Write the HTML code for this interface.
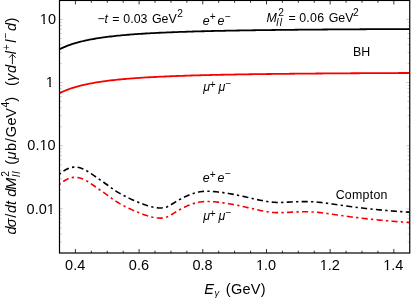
<!DOCTYPE html>
<html><head><meta charset="utf-8"><title>plot</title>
<style>
html,body{margin:0;padding:0;background:#fff;}
svg{display:block;will-change:transform;}
text{font-family:"Liberation Sans",sans-serif;fill:#000;}
.i{font-style:italic;}
</style></head><body>
<svg width="415" height="302" viewBox="0 0 415 302">
<rect x="0" y="0" width="415" height="302" fill="#fff"/>
<defs><clipPath id="c"><rect x="59.5" y="0.45" width="350.25" height="252.55"/></clipPath></defs>

<g clip-path="url(#c)" fill="none" stroke-linejoin="round">
<path d="M59.50,49.23 L61.26,48.37 L63.02,47.57 L64.78,46.82 L66.54,46.11 L68.30,45.44 L70.06,44.81 L71.82,44.21 L73.58,43.65 L75.34,43.12 L77.10,42.62 L78.86,42.14 L80.62,41.69 L82.38,41.25 L84.14,40.84 L85.90,40.45 L87.66,40.08 L89.42,39.73 L91.18,39.39 L92.94,39.07 L94.70,38.76 L96.46,38.46 L98.22,38.18 L99.98,37.91 L101.74,37.65 L103.50,37.40 L105.26,37.16 L107.02,36.93 L108.78,36.71 L110.54,36.50 L112.30,36.29 L114.06,36.09 L115.82,35.90 L117.58,35.72 L119.34,35.55 L121.10,35.38 L122.86,35.21 L124.62,35.06 L126.38,34.90 L128.14,34.76 L129.90,34.61 L131.66,34.47 L133.42,34.34 L135.18,34.21 L136.94,34.09 L138.70,33.97 L140.46,33.85 L142.22,33.74 L143.98,33.62 L145.74,33.52 L147.50,33.41 L149.26,33.31 L151.02,33.22 L152.78,33.12 L154.54,33.03 L156.30,32.94 L158.06,32.85 L159.82,32.77 L161.58,32.68 L163.34,32.60 L165.10,32.53 L166.86,32.45 L168.62,32.38 L170.38,32.30 L172.14,32.23 L173.90,32.17 L175.66,32.10 L177.42,32.03 L179.18,31.97 L180.94,31.91 L182.70,31.85 L184.46,31.79 L186.22,31.73 L187.98,31.68 L189.74,31.62 L191.50,31.57 L193.26,31.52 L195.02,31.46 L196.78,31.41 L198.54,31.37 L200.30,31.32 L202.06,31.27 L203.82,31.23 L205.58,31.18 L207.34,31.14 L209.10,31.09 L210.86,31.05 L212.62,31.01 L214.38,30.97 L216.14,30.93 L217.90,30.89 L219.66,30.86 L221.42,30.82 L223.18,30.78 L224.94,30.75 L226.70,30.71 L228.46,30.68 L230.22,30.65 L231.98,30.61 L233.74,30.58 L235.51,30.55 L237.27,30.52 L239.03,30.49 L240.79,30.46 L242.55,30.43 L244.31,30.40 L246.07,30.37 L247.83,30.35 L249.59,30.32 L251.35,30.29 L253.11,30.27 L254.87,30.24 L256.63,30.22 L258.39,30.19 L260.15,30.17 L261.91,30.14 L263.67,30.12 L265.43,30.10 L267.19,30.07 L268.95,30.05 L270.71,30.03 L272.47,30.01 L274.23,29.99 L275.99,29.97 L277.75,29.95 L279.51,29.93 L281.27,29.91 L283.03,29.89 L284.79,29.87 L286.55,29.85 L288.31,29.83 L290.07,29.81 L291.83,29.79 L293.59,29.78 L295.35,29.76 L297.11,29.74 L298.87,29.72 L300.63,29.71 L302.39,29.69 L304.15,29.68 L305.91,29.66 L307.67,29.64 L309.43,29.63 L311.19,29.61 L312.95,29.60 L314.71,29.58 L316.47,29.57 L318.23,29.55 L319.99,29.54 L321.75,29.53 L323.51,29.51 L325.27,29.50 L327.03,29.49 L328.79,29.47 L330.55,29.46 L332.31,29.45 L334.07,29.43 L335.83,29.42 L337.59,29.41 L339.35,29.40 L341.11,29.39 L342.87,29.37 L344.63,29.36 L346.39,29.35 L348.15,29.34 L349.91,29.33 L351.67,29.32 L353.43,29.31 L355.19,29.30 L356.95,29.29 L358.71,29.28 L360.47,29.26 L362.23,29.25 L363.99,29.24 L365.75,29.23 L367.51,29.22 L369.27,29.22 L371.03,29.21 L372.79,29.20 L374.55,29.19 L376.31,29.18 L378.07,29.17 L379.83,29.16 L381.59,29.15 L383.35,29.14 L385.11,29.13 L386.87,29.12 L388.63,29.12 L390.39,29.11 L392.15,29.10 L393.91,29.09 L395.67,29.08 L397.43,29.08 L399.19,29.07 L400.95,29.06 L402.71,29.05 L404.47,29.04 L406.23,29.04 L407.99,29.03 L409.75,29.02" stroke="#000" stroke-width="1.8"/>
<path d="M59.50,93.18 L61.26,92.32 L63.02,91.52 L64.78,90.77 L66.54,90.06 L68.30,89.39 L70.06,88.76 L71.82,88.16 L73.58,87.60 L75.34,87.07 L77.10,86.57 L78.86,86.09 L80.62,85.64 L82.38,85.20 L84.14,84.79 L85.90,84.40 L87.66,84.03 L89.42,83.68 L91.18,83.34 L92.94,83.02 L94.70,82.71 L96.46,82.41 L98.22,82.13 L99.98,81.86 L101.74,81.60 L103.50,81.35 L105.26,81.11 L107.02,80.88 L108.78,80.66 L110.54,80.45 L112.30,80.24 L114.06,80.04 L115.82,79.85 L117.58,79.67 L119.34,79.50 L121.10,79.33 L122.86,79.16 L124.62,79.01 L126.38,78.85 L128.14,78.71 L129.90,78.56 L131.66,78.42 L133.42,78.29 L135.18,78.16 L136.94,78.04 L138.70,77.92 L140.46,77.80 L142.22,77.69 L143.98,77.57 L145.74,77.47 L147.50,77.36 L149.26,77.26 L151.02,77.17 L152.78,77.07 L154.54,76.98 L156.30,76.89 L158.06,76.80 L159.82,76.72 L161.58,76.63 L163.34,76.55 L165.10,76.48 L166.86,76.40 L168.62,76.33 L170.38,76.25 L172.14,76.18 L173.90,76.12 L175.66,76.05 L177.42,75.98 L179.18,75.92 L180.94,75.86 L182.70,75.80 L184.46,75.74 L186.22,75.68 L187.98,75.63 L189.74,75.57 L191.50,75.52 L193.26,75.47 L195.02,75.41 L196.78,75.36 L198.54,75.32 L200.30,75.27 L202.06,75.22 L203.82,75.18 L205.58,75.13 L207.34,75.09 L209.10,75.04 L210.86,75.00 L212.62,74.96 L214.38,74.92 L216.14,74.88 L217.90,74.84 L219.66,74.81 L221.42,74.77 L223.18,74.73 L224.94,74.70 L226.70,74.66 L228.46,74.63 L230.22,74.60 L231.98,74.56 L233.74,74.53 L235.51,74.50 L237.27,74.47 L239.03,74.44 L240.79,74.41 L242.55,74.38 L244.31,74.35 L246.07,74.32 L247.83,74.30 L249.59,74.27 L251.35,74.24 L253.11,74.22 L254.87,74.19 L256.63,74.17 L258.39,74.14 L260.15,74.12 L261.91,74.09 L263.67,74.07 L265.43,74.05 L267.19,74.02 L268.95,74.00 L270.71,73.98 L272.47,73.96 L274.23,73.94 L275.99,73.92 L277.75,73.90 L279.51,73.88 L281.27,73.86 L283.03,73.84 L284.79,73.82 L286.55,73.80 L288.31,73.78 L290.07,73.76 L291.83,73.74 L293.59,73.73 L295.35,73.71 L297.11,73.69 L298.87,73.67 L300.63,73.66 L302.39,73.64 L304.15,73.63 L305.91,73.61 L307.67,73.59 L309.43,73.58 L311.19,73.56 L312.95,73.55 L314.71,73.53 L316.47,73.52 L318.23,73.50 L319.99,73.49 L321.75,73.48 L323.51,73.46 L325.27,73.45 L327.03,73.44 L328.79,73.42 L330.55,73.41 L332.31,73.40 L334.07,73.38 L335.83,73.37 L337.59,73.36 L339.35,73.35 L341.11,73.34 L342.87,73.32 L344.63,73.31 L346.39,73.30 L348.15,73.29 L349.91,73.28 L351.67,73.27 L353.43,73.26 L355.19,73.25 L356.95,73.24 L358.71,73.23 L360.47,73.21 L362.23,73.20 L363.99,73.19 L365.75,73.18 L367.51,73.17 L369.27,73.17 L371.03,73.16 L372.79,73.15 L374.55,73.14 L376.31,73.13 L378.07,73.12 L379.83,73.11 L381.59,73.10 L383.35,73.09 L385.11,73.08 L386.87,73.07 L388.63,73.07 L390.39,73.06 L392.15,73.05 L393.91,73.04 L395.67,73.03 L397.43,73.03 L399.19,73.02 L400.95,73.01 L402.71,73.00 L404.47,72.99 L406.23,72.99 L407.99,72.98 L409.75,72.97" stroke="#f80000" stroke-width="1.8"/>
<path d="M59.50,174.18 L61.26,172.72 L63.02,171.41 L64.78,170.27 L66.54,169.29 L68.30,168.48 L70.06,167.85 L71.82,167.41 L73.58,167.15 L75.34,167.09 L77.10,167.23 L78.86,167.55 L80.62,168.03 L82.38,168.66 L84.14,169.44 L85.90,170.33 L87.66,171.34 L89.42,172.43 L91.18,173.60 L92.94,174.82 L94.70,176.07 L96.46,177.33 L98.22,178.58 L99.98,179.81 L101.74,181.03 L103.50,182.25 L105.26,183.48 L107.02,184.73 L108.78,186.01 L110.54,187.30 L112.30,188.58 L114.06,189.81 L115.82,190.98 L117.58,192.09 L119.34,193.15 L121.10,194.16 L122.86,195.13 L124.62,196.06 L126.38,196.95 L128.14,197.80 L129.90,198.63 L131.66,199.42 L133.42,200.20 L135.18,200.95 L136.94,201.69 L138.70,202.41 L140.46,203.12 L142.22,203.80 L143.98,204.46 L145.74,205.08 L147.50,205.66 L149.26,206.19 L151.02,206.67 L152.78,207.08 L154.54,207.42 L156.30,207.68 L158.06,207.86 L159.82,207.95 L161.58,207.93 L163.34,207.78 L165.10,207.45 L166.86,206.90 L168.62,206.11 L170.38,205.13 L172.14,204.05 L173.90,202.95 L175.66,201.87 L177.42,200.82 L179.18,199.81 L180.94,198.83 L182.70,197.90 L184.46,197.02 L186.22,196.18 L187.98,195.40 L189.74,194.68 L191.50,194.02 L193.26,193.42 L195.02,192.90 L196.78,192.45 L198.54,192.07 L200.30,191.78 L202.06,191.55 L203.82,191.39 L205.58,191.30 L207.34,191.26 L209.10,191.27 L210.86,191.34 L212.62,191.44 L214.38,191.58 L216.14,191.75 L217.90,191.95 L219.66,192.17 L221.42,192.41 L223.18,192.66 L224.94,192.92 L226.70,193.20 L228.46,193.48 L230.22,193.78 L231.98,194.09 L233.74,194.41 L235.51,194.75 L237.27,195.10 L239.03,195.45 L240.79,195.82 L242.55,196.20 L244.31,196.60 L246.07,197.00 L247.83,197.41 L249.59,197.82 L251.35,198.24 L253.11,198.66 L254.87,199.07 L256.63,199.47 L258.39,199.86 L260.15,200.23 L261.91,200.59 L263.67,200.92 L265.43,201.23 L267.19,201.51 L268.95,201.77 L270.71,201.98 L272.47,202.16 L274.23,202.30 L275.99,202.40 L277.75,202.45 L279.51,202.46 L281.27,202.44 L283.03,202.39 L284.79,202.32 L286.55,202.24 L288.31,202.14 L290.07,202.04 L291.83,201.94 L293.59,201.85 L295.35,201.77 L297.11,201.70 L298.87,201.65 L300.63,201.61 L302.39,201.58 L304.15,201.58 L305.91,201.59 L307.67,201.61 L309.43,201.66 L311.19,201.73 L312.95,201.81 L314.71,201.92 L316.47,202.05 L318.23,202.21 L319.99,202.38 L321.75,202.57 L323.51,202.78 L325.27,203.00 L327.03,203.23 L328.79,203.47 L330.55,203.72 L332.31,203.98 L334.07,204.24 L335.83,204.51 L337.59,204.77 L339.35,205.03 L341.11,205.29 L342.87,205.55 L344.63,205.80 L346.39,206.04 L348.15,206.29 L349.91,206.52 L351.67,206.75 L353.43,206.98 L355.19,207.20 L356.95,207.42 L358.71,207.64 L360.47,207.85 L362.23,208.05 L363.99,208.26 L365.75,208.45 L367.51,208.65 L369.27,208.84 L371.03,209.02 L372.79,209.21 L374.55,209.39 L376.31,209.56 L378.07,209.73 L379.83,209.90 L381.59,210.07 L383.35,210.23 L385.11,210.39 L386.87,210.54 L388.63,210.69 L390.39,210.84 L392.15,210.99 L393.91,211.13 L395.67,211.27 L397.43,211.41 L399.19,211.54 L400.95,211.67 L402.71,211.80 L404.47,211.93 L406.23,212.05 L407.99,212.17 L409.75,212.29" stroke="#000" stroke-width="1.6" stroke-dasharray="2.3 3.29 6.08 3.29" stroke-dashoffset="0.55"/>
<path d="M59.50,184.38 L61.26,182.92 L63.02,181.61 L64.78,180.47 L66.54,179.49 L68.30,178.68 L70.06,178.05 L71.82,177.61 L73.58,177.35 L75.34,177.29 L77.10,177.43 L78.86,177.75 L80.62,178.23 L82.38,178.86 L84.14,179.64 L85.90,180.53 L87.66,181.54 L89.42,182.63 L91.18,183.80 L92.94,185.02 L94.70,186.27 L96.46,187.53 L98.22,188.78 L99.98,190.01 L101.74,191.23 L103.50,192.45 L105.26,193.68 L107.02,194.93 L108.78,196.21 L110.54,197.50 L112.30,198.78 L114.06,200.01 L115.82,201.18 L117.58,202.29 L119.34,203.35 L121.10,204.36 L122.86,205.33 L124.62,206.26 L126.38,207.15 L128.14,208.00 L129.90,208.83 L131.66,209.62 L133.42,210.40 L135.18,211.15 L136.94,211.89 L138.70,212.61 L140.46,213.32 L142.22,214.00 L143.98,214.66 L145.74,215.28 L147.50,215.86 L149.26,216.39 L151.02,216.87 L152.78,217.28 L154.54,217.62 L156.30,217.88 L158.06,218.06 L159.82,218.15 L161.58,218.13 L163.34,217.98 L165.10,217.65 L166.86,217.10 L168.62,216.31 L170.38,215.33 L172.14,214.25 L173.90,213.15 L175.66,212.07 L177.42,211.02 L179.18,210.01 L180.94,209.03 L182.70,208.10 L184.46,207.22 L186.22,206.38 L187.98,205.60 L189.74,204.88 L191.50,204.22 L193.26,203.62 L195.02,203.10 L196.78,202.65 L198.54,202.27 L200.30,201.98 L202.06,201.75 L203.82,201.59 L205.58,201.50 L207.34,201.46 L209.10,201.47 L210.86,201.54 L212.62,201.64 L214.38,201.78 L216.14,201.95 L217.90,202.15 L219.66,202.37 L221.42,202.61 L223.18,202.86 L224.94,203.12 L226.70,203.40 L228.46,203.68 L230.22,203.98 L231.98,204.29 L233.74,204.61 L235.51,204.95 L237.27,205.30 L239.03,205.65 L240.79,206.02 L242.55,206.40 L244.31,206.80 L246.07,207.20 L247.83,207.61 L249.59,208.02 L251.35,208.44 L253.11,208.86 L254.87,209.27 L256.63,209.67 L258.39,210.06 L260.15,210.43 L261.91,210.79 L263.67,211.12 L265.43,211.43 L267.19,211.71 L268.95,211.97 L270.71,212.18 L272.47,212.36 L274.23,212.50 L275.99,212.60 L277.75,212.65 L279.51,212.66 L281.27,212.64 L283.03,212.59 L284.79,212.52 L286.55,212.44 L288.31,212.34 L290.07,212.24 L291.83,212.14 L293.59,212.05 L295.35,211.97 L297.11,211.90 L298.87,211.85 L300.63,211.81 L302.39,211.78 L304.15,211.78 L305.91,211.79 L307.67,211.81 L309.43,211.86 L311.19,211.93 L312.95,212.01 L314.71,212.12 L316.47,212.25 L318.23,212.41 L319.99,212.58 L321.75,212.77 L323.51,212.98 L325.27,213.20 L327.03,213.43 L328.79,213.67 L330.55,213.92 L332.31,214.18 L334.07,214.44 L335.83,214.71 L337.59,214.97 L339.35,215.23 L341.11,215.49 L342.87,215.75 L344.63,216.00 L346.39,216.24 L348.15,216.49 L349.91,216.72 L351.67,216.95 L353.43,217.18 L355.19,217.40 L356.95,217.62 L358.71,217.84 L360.47,218.05 L362.23,218.25 L363.99,218.46 L365.75,218.65 L367.51,218.85 L369.27,219.04 L371.03,219.22 L372.79,219.41 L374.55,219.59 L376.31,219.76 L378.07,219.93 L379.83,220.10 L381.59,220.27 L383.35,220.43 L385.11,220.59 L386.87,220.74 L388.63,220.89 L390.39,221.04 L392.15,221.19 L393.91,221.33 L395.67,221.47 L397.43,221.61 L399.19,221.74 L400.95,221.87 L402.71,222.00 L404.47,222.13 L406.23,222.25 L407.99,222.37 L409.75,222.49" stroke="#f80000" stroke-width="1.6" stroke-dasharray="2.3 3.3 6.1 3.3" stroke-dashoffset="0.85"/>
</g>
<path d="M75.42,253.0v-4.0M75.42,0.45v4.0M91.34,253.0v-2.3M91.34,0.45v2.3M107.26,253.0v-2.3M107.26,0.45v2.3M123.18,253.0v-2.3M123.18,0.45v2.3M139.10,253.0v-4.0M139.10,0.45v4.0M155.02,253.0v-2.3M155.02,0.45v2.3M170.94,253.0v-2.3M170.94,0.45v2.3M186.86,253.0v-2.3M186.86,0.45v2.3M202.78,253.0v-4.0M202.78,0.45v4.0M218.70,253.0v-2.3M218.70,0.45v2.3M234.62,253.0v-2.3M234.62,0.45v2.3M250.55,253.0v-2.3M250.55,0.45v2.3M266.47,253.0v-4.0M266.47,0.45v4.0M282.39,253.0v-2.3M282.39,0.45v2.3M298.31,253.0v-2.3M298.31,0.45v2.3M314.23,253.0v-2.3M314.23,0.45v2.3M330.15,253.0v-4.0M330.15,0.45v4.0M346.07,253.0v-2.3M346.07,0.45v2.3M361.99,253.0v-2.3M361.99,0.45v2.3M377.91,253.0v-2.3M377.91,0.45v2.3M393.83,253.0v-4.0M393.83,0.45v4.0" stroke="#000" stroke-width="0.8" fill="none"/>
<path d="M59.5,241.88h2.25M409.75,241.88h-2.25M59.5,233.99h2.25M409.75,233.99h-2.25M59.5,227.88h2.25M409.75,227.88h-2.25M59.5,222.88h2.25M409.75,222.88h-2.25M59.5,218.65h2.25M409.75,218.65h-2.25M59.5,214.99h2.25M409.75,214.99h-2.25M59.5,211.76h2.25M409.75,211.76h-2.25M59.5,208.87h3.6M409.75,208.87h-3.6M59.5,189.86h2.25M409.75,189.86h-2.25M59.5,178.74h2.25M409.75,178.74h-2.25M59.5,170.86h2.25M409.75,170.86h-2.25M59.5,164.74h2.25M409.75,164.74h-2.25M59.5,159.74h2.25M409.75,159.74h-2.25M59.5,155.51h2.25M409.75,155.51h-2.25M59.5,151.85h2.25M409.75,151.85h-2.25M59.5,148.62h2.25M409.75,148.62h-2.25M59.5,145.73h3.6M409.75,145.73h-3.6M59.5,126.73h2.25M409.75,126.73h-2.25M59.5,115.61h2.25M409.75,115.61h-2.25M59.5,107.72h2.25M409.75,107.72h-2.25M59.5,101.60h2.25M409.75,101.60h-2.25M59.5,96.60h2.25M409.75,96.60h-2.25M59.5,92.37h2.25M409.75,92.37h-2.25M59.5,88.71h2.25M409.75,88.71h-2.25M59.5,85.48h2.25M409.75,85.48h-2.25M59.5,82.59h3.6M409.75,82.59h-3.6M59.5,63.59h2.25M409.75,63.59h-2.25M59.5,52.47h2.25M409.75,52.47h-2.25M59.5,44.58h2.25M409.75,44.58h-2.25M59.5,38.46h2.25M409.75,38.46h-2.25M59.5,33.46h2.25M409.75,33.46h-2.25M59.5,29.24h2.25M409.75,29.24h-2.25M59.5,25.57h2.25M409.75,25.57h-2.25M59.5,22.35h2.25M409.75,22.35h-2.25M59.5,19.46h3.6M409.75,19.46h-3.6" stroke="#000" stroke-width="0.21" fill="none"/>
<rect x="59.5" y="0.45" width="350.25" height="252.55" fill="none" stroke="#000" stroke-width="1.2"/>
<g transform="translate(65.07,270.40) scale(1,1.04)"><text x="0" y="0" font-size="14.5">0.4</text></g>
<g transform="translate(128.86,270.40) scale(1,1.04)"><text x="0" y="0" font-size="14.5">0.6</text></g>
<g transform="translate(192.54,270.40) scale(1,1.04)"><text x="0" y="0" font-size="14.5">0.8</text></g>
<g transform="translate(255.92,270.40) scale(1,1.04)"><text x="0" y="0" font-size="14.5">1.0</text><rect x="0.00" y="-1.54" width="3.53" height="2.29" fill="#fff"/><rect x="5.05" y="-1.54" width="2.90" height="2.29" fill="#fff"/></g>
<g transform="translate(319.68,270.40) scale(1,1.04)"><text x="0" y="0" font-size="14.5">1.2</text><rect x="0.00" y="-1.54" width="3.53" height="2.29" fill="#fff"/><rect x="5.05" y="-1.54" width="2.90" height="2.29" fill="#fff"/></g>
<g transform="translate(383.21,270.40) scale(1,1.04)"><text x="0" y="0" font-size="14.5">1.4</text><rect x="0.00" y="-1.54" width="3.53" height="2.29" fill="#fff"/><rect x="5.05" y="-1.54" width="2.90" height="2.29" fill="#fff"/></g>
<g transform="translate(39.84,24.11) scale(1,1.04)"><text x="0" y="0" font-size="14.5">10</text><rect x="0.00" y="-1.54" width="3.53" height="2.29" fill="#fff"/><rect x="5.05" y="-1.54" width="2.90" height="2.29" fill="#fff"/></g>
<g transform="translate(45.84,87.24) scale(1,1.04)"><text x="0" y="0" font-size="14.5">1</text><rect x="0.00" y="-1.54" width="3.53" height="2.29" fill="#fff"/><rect x="5.05" y="-1.54" width="2.90" height="2.29" fill="#fff"/></g>
<g transform="translate(27.34,150.38) scale(1,1.04)"><text x="0" y="0" font-size="14.5">0.10</text><rect x="12.09" y="-1.54" width="3.53" height="2.29" fill="#fff"/><rect x="17.14" y="-1.54" width="2.90" height="2.29" fill="#fff"/></g>
<g transform="translate(26.59,213.52) scale(1,1.04)"><text x="0" y="0" font-size="14.5">0.01</text><rect x="20.16" y="-1.54" width="3.53" height="2.29" fill="#fff"/><rect x="25.21" y="-1.54" width="2.90" height="2.29" fill="#fff"/></g>
<text><tspan class="i" font-size="14.5" x="204.15" y="294.20">E</tspan><tspan class="i" font-size="9.4" x="214.39" y="296.00">γ</tspan><tspan font-size="14.5" x="225.80" y="294.20" letter-spacing="0.3">(GeV)</tspan></text>
<g transform="translate(15.9,234.1) rotate(-90)">
<text><tspan class="i" font-size="14.5" x="-0.49" y="0.00">d</tspan><tspan class="i" font-size="14.5" x="6.92" y="0.00">σ</tspan><tspan font-size="14.5" x="16.30" y="0.00">/</tspan><tspan class="i" font-size="14.5" x="21.11" y="0.00">d</tspan><tspan class="i" font-size="14.5" x="29.04" y="0.00">t</tspan><tspan class="i" font-size="14.5" x="37.31" y="0.00">d</tspan><tspan class="i" font-size="14.5" x="44.45" y="0.00">M</tspan><tspan class="i" font-size="10.3" x="57.23" y="4.40">l</tspan><tspan class="i" font-size="10.3" x="60.43" y="4.40">l</tspan><tspan font-size="10.3" x="57.48" y="-7.00">2</tspan><tspan font-size="14.5" x="69.30" y="0.00">(</tspan><tspan class="i" font-size="14.5" x="74.70" y="0.00">μ</tspan><tspan font-size="14.5" x="83.06" y="0.00">b</tspan><tspan font-size="14.5" x="91.90" y="0.00">/</tspan><tspan font-size="14.5" x="96.97" y="0.00">G</tspan><tspan font-size="14.5" x="108.68" y="0.00">e</tspan><tspan font-size="14.5" x="116.44" y="0.00">V</tspan><tspan font-size="10.3" x="126.66" y="-7.00">4</tspan><tspan font-size="14.5" x="132.41" y="0.00">)</tspan><tspan font-size="14.5" x="148.10" y="0.00">(</tspan><tspan class="i" font-size="14.5" x="153.01" y="0.00">γ</tspan><tspan class="i" font-size="14.5" x="161.21" y="0.00">d</tspan><tspan class="i" font-size="14.5" x="179.97" y="0.00">l</tspan><tspan font-size="10.3" x="183.90" y="-6.40">+</tspan><tspan class="i" font-size="14.5" x="191.37" y="0.00">l</tspan><tspan font-size="10.3" x="194.99" y="-6.80">−</tspan><tspan class="i" font-size="14.5" x="203.11" y="0.00">d</tspan><tspan font-size="14.5" x="211.51" y="0.00">)</tspan></text>
<path d="M169.9,-3.5H179.6M176.4,-6.8L179.8,-3.5L176.4,-0.2" fill="none" stroke="#000" stroke-width="0.9"/>
</g>
<text><tspan font-size="12.4" x="97.49" y="22.70">−</tspan><tspan class="i" font-size="12.4" x="104.44" y="22.70">t</tspan><tspan font-size="12.4" x="112.19" y="23.10">=</tspan><tspan font-size="12.4" x="123.32" y="22.70">0.03</tspan><tspan font-size="12.4" x="151.88" y="22.70">GeV</tspan><tspan font-size="10.2" x="177.19" y="17.00">2</tspan></text>
<text><tspan class="i" font-size="12.4" x="202.68" y="24.60">e</tspan><tspan font-size="10.2" x="209.70" y="20.30">+</tspan><tspan class="i" font-size="12.4" x="217.58" y="24.60">e</tspan><tspan font-size="10.2" x="225.10" y="19.90">−</tspan></text>
<text><tspan class="i" font-size="12.4" x="266.52" y="21.50">M</tspan><tspan class="i" font-size="10.2" x="276.34" y="26.00">l</tspan><tspan class="i" font-size="10.2" x="279.64" y="26.00">l</tspan><tspan font-size="10.2" x="278.19" y="16.30">2</tspan><tspan font-size="12.4" x="288.39" y="22.20">=</tspan><tspan font-size="12.4" x="299.22" y="21.50" letter-spacing="0.25">0.06</tspan><tspan font-size="12.4" x="328.68" y="21.50" letter-spacing="0">GeV</tspan><tspan font-size="10.2" x="352.89" y="16.00">2</tspan></text>
<text><tspan font-size="12.4" x="353.08" y="55.80">BH</tspan></text>
<text><tspan class="i" font-size="12.4" x="203.36" y="90.70">μ</tspan><tspan font-size="10.2" x="209.70" y="87.60">+</tspan><tspan class="i" font-size="12.4" x="218.46" y="90.70">μ</tspan><tspan font-size="10.2" x="225.60" y="87.20">−</tspan></text>
<text><tspan class="i" font-size="12.4" x="202.68" y="182.00">e</tspan><tspan font-size="10.2" x="209.70" y="177.70">+</tspan><tspan class="i" font-size="12.4" x="217.58" y="182.00">e</tspan><tspan font-size="10.2" x="225.10" y="177.30">−</tspan></text>
<text><tspan class="i" font-size="12.4" x="203.36" y="219.75">μ</tspan><tspan font-size="10.2" x="209.70" y="216.65">+</tspan><tspan class="i" font-size="12.4" x="218.46" y="219.75">μ</tspan><tspan font-size="10.2" x="225.60" y="216.25">−</tspan></text>
<text letter-spacing="0.25"><tspan font-size="12.4" x="335.67" y="198.50">Compton</tspan></text>
</svg></body></html>
